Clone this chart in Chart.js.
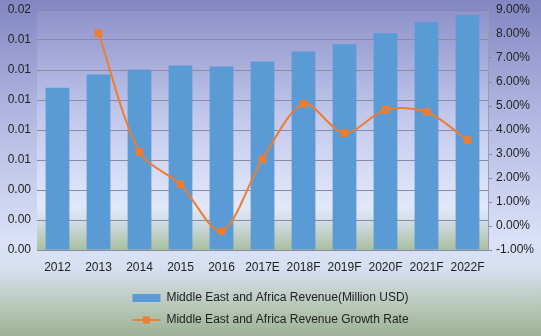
<!DOCTYPE html>
<html lang="en">
<head>
<meta charset="UTF-8">
<title>Middle East and Africa Revenue</title>
<script src="https://cdn.jsdelivr.net/npm/chart.js"></script>
<style>
    body {
        margin: 0;
        background: #fff;
    }
    #wrap {
        width: 541px;
        height: 336px;
        background: linear-gradient(to bottom, #8286c2 0%, #b3b8e2 35%, #dbe1f7 72%, #d6dff0 80%, #b5c6b4 92%, #9db296 100%);
    }
</style>
</head>
<body>
<div id="wrap"><canvas id="chart"></canvas></div>
<script>
const years = ['2012', '2013', '2014', '2015', '2016', '2017E', '2018F', '2019F', '2020F', '2021F', '2022F'];
const revenue = [0.01353, 0.01462, 0.01504, 0.01538, 0.01529, 0.01571, 0.01655, 0.01714, 0.01807, 0.01899, 0.01958];
const growthRate = [null, 8.03, 3.08, 1.73, -0.22, 2.78, 5.09, 3.87, 4.84, 4.76, 3.58];
const leftTicks = ['0.00', '0.00', '0.00', '0.01', '0.01', '0.01', '0.01', '0.01', '0.02'];

const FONT = '"Liberation Sans", Arial, sans-serif';
const BLUE = '#5b9bd5';
const ORANGE = '#ed7d31';

// plot area background (lavender -> pale -> green band at the bottom)
const plotBg = {
    id: 'plotBg',
    beforeDraw(chart) {
        const { ctx, chartArea: a } = chart;
        const g = ctx.createLinearGradient(0, a.top, 0, a.bottom);
        g.addColorStop(0, '#8f92ca');
        g.addColorStop(0.45, '#c3c8ec');
        g.addColorStop(0.82, '#e2e8fa');
        g.addColorStop(0.88, '#d3dde6');
        g.addColorStop(1, '#a9bf9f');
        ctx.save();
        ctx.fillStyle = g;
        ctx.fillRect(a.left, a.top, a.right - a.left, a.bottom - a.top);
        ctx.restore();
    }
};

// line + square marker in the legend for the growth-rate series
const lineLegend = {
    id: 'lineLegend',
    afterDraw(chart) {
        const boxes = chart.legend.legendHitBoxes;
        if (!boxes || boxes.length < 2) return;
        const b = boxes[1];
        const y = b.top + b.height / 2;
        const ctx = chart.ctx;
        ctx.save();
        ctx.strokeStyle = ORANGE;
        ctx.lineWidth = 2;
        ctx.beginPath();
        ctx.moveTo(b.left, y);
        ctx.lineTo(b.left + 28, y);
        ctx.stroke();
        ctx.fillStyle = ORANGE;
        ctx.fillRect(b.left + 14 - 3.5, y - 3.5, 7, 7);
        ctx.restore();
    }
};

new Chart(document.getElementById('chart'), {
    data: {
        labels: years,
        datasets: [{
            type: 'bar',
            label: 'Middle East and Africa Revenue(Million USD)',
            data: revenue,
            backgroundColor: BLUE,
            yAxisID: 'y',
            categoryPercentage: 1,
            barPercentage: 0.58,
            order: 1
        }, {
            type: 'line',
            label: 'Middle East and Africa Revenue Growth Rate',
            data: growthRate,
            borderColor: ORANGE,
            backgroundColor: ORANGE,
            borderWidth: 2,
            pointStyle: 'rect',
            pointRadius: 4,
            tension: 0.3,
            yAxisID: 'y1',
            order: 0
        }]
    },
    options: {
        responsive: true,
        maintainAspectRatio: false,
        animation: false,
        layout: { padding: { top: 10, bottom: 0 } },
        plugins: {
            tooltip: { enabled: false },
            legend: {
                position: 'bottom',
                labels: {
                    font: { family: FONT, size: 12 },
                    color: '#222',
                    boxWidth: 28,
                    boxHeight: 8,
                    padding: 10,
                    sort: (a, b) => a.datasetIndex - b.datasetIndex,
                    generateLabels(chart) {
                        const items = Chart.defaults.plugins.legend.labels.generateLabels(chart);
                        items.forEach(it => {
                            if (it.datasetIndex === 1) {
                                it.fillStyle = 'rgba(0,0,0,0)';
                                it.strokeStyle = 'rgba(0,0,0,0)';
                            }
                            it.lineWidth = 0;
                        });
                        return items;
                    }
                }
            }
        },
        scales: {
            x: {
                grid: { display: false },
                border: { display: false },
                ticks: { font: { family: FONT, size: 12 }, color: '#222', padding: 2 },
                afterFit: s => { s.height = 32; }
            },
            y: {
                position: 'left',
                min: 0,
                max: 0.02,
                ticks: {
                    stepSize: 0.0025,
                    font: { family: FONT, size: 12 },
                    color: '#222',
                    padding: 6,
                    callback: (v, i) => leftTicks[i]
                },
                grid: { color: '#8a8aa6', drawTicks: false },
                border: { display: false },
                afterFit: s => { s.width = 37; s.paddingTop = 0; s.paddingBottom = 0; }
            },
            y1: {
                position: 'right',
                min: -1,
                max: 9,
                ticks: {
                    stepSize: 1,
                    font: { family: FONT, size: 12 },
                    color: '#222',
                    padding: 4,
                    callback: v => v.toFixed(2) + '%'
                },
                grid: { drawOnChartArea: false, color: '#8a8aa6', tickLength: 4 },
                border: { display: true, color: '#9a9ab0' },
                afterFit: s => { s.width = 53; s.paddingTop = 0; s.paddingBottom = 0; }
            }
        }
    },
    plugins: [plotBg, lineLegend]
});
</script>
</body>
</html>
